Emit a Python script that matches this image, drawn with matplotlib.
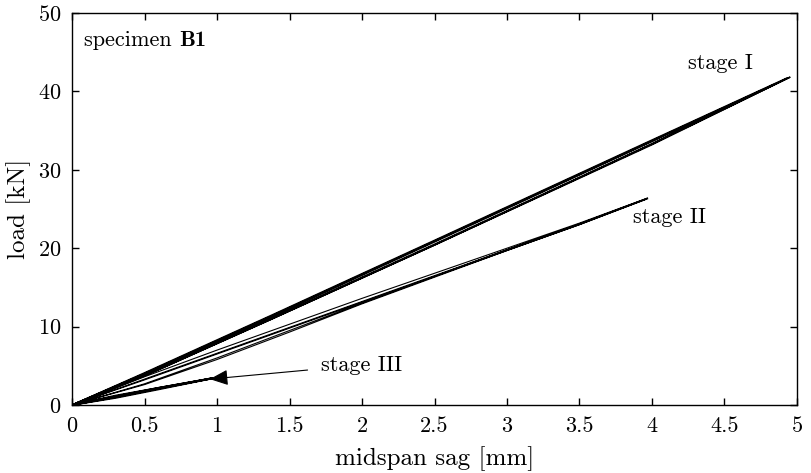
import numpy as np
import matplotlib
matplotlib.use("Agg")
import matplotlib.pyplot as plt

plt.rcParams["font.family"] = "serif"
plt.rcParams["font.serif"] = ["cmr10"]
plt.rcParams["mathtext.fontset"] = "cm"
plt.rcParams["axes.formatter.use_mathtext"] = True

# load/unload cycles: (sag [mm], load [kN])
stage1_sag = [0, 0.5, 1.37, 2.5, 4.0, 4.95, 4.0, 2.5, 1.37, 0.5, 0,
              0.5, 1.37, 2.5, 4.0, 4.93, 4.0, 2.5, 1.37, 0.5, 0,
              0.5, 1.37, 2.5, 4.0, 4.95, 4.0, 2.5, 1.37, 0.5, 0]
stage1_load = [0, 3.7, 10.9, 20.4, 33.2, 41.8, 33.7, 20.9, 11.3, 4.0, 0,
               3.8, 11.0, 20.5, 33.3, 41.7, 33.8, 21.0, 11.4, 4.1, 0,
               3.7, 10.9, 20.4, 33.3, 41.8, 33.6, 20.8, 11.2, 3.9, 0]

stage2_sag = [0, 0.5, 1.0, 1.5, 2.0, 2.5, 3.0, 3.5, 3.97,
              3.5, 3.0, 2.5, 2.0, 1.5, 1.0, 0.5, 0,
              0.5, 1.0, 1.5, 2.0, 2.5, 3.0, 3.5, 3.95,
              3.5, 3.0, 2.5, 2.0, 1.5, 1.0, 0.5, 0,
              0.5, 1.0, 1.5, 2.0, 2.5, 3.0, 3.5, 3.97]
stage2_load = [0, 3.6, 7.0, 10.3, 13.6, 16.8, 20.0, 23.2, 26.4,
               23.1, 19.8, 16.4, 13.0, 9.5, 6.0, 2.7, 0,
               3.3, 6.6, 9.9, 13.2, 16.5, 19.8, 23.1, 26.2,
               23.0, 19.7, 16.3, 12.9, 9.3, 5.8, 2.6, 0,
               3.2, 6.5, 9.8, 13.1, 16.4, 19.7, 23.0, 26.3]

stage3_sag = [0, 0.3, 0.6, 0.97, 0.6, 0.3, 0,
              0.3, 0.6, 0.96, 0.6, 0.3, 0,
              0.3, 0.6, 0.97]
stage3_load = [0, 1.1, 2.1, 3.4, 2.0, 0.9, 0,
               1.1, 2.2, 3.4, 2.1, 1.0, 0,
               1.2, 2.2, 3.4]

fig = plt.figure(figsize=(8.12, 4.73), dpi=100)
ax = fig.add_axes([0.0887, 0.1438, 0.8928, 0.8287])

ax.plot(stage1_sag, stage1_load, color="black", lw=1.1)
ax.plot(stage2_sag, stage2_load, color="black", lw=0.8)
ax.plot(stage3_sag, stage3_load, color="black", lw=1.3)

ax.text(4.25, 43.6, "stage I", fontsize=16, va="center", ha="left")
ax.text(3.87, 23.9, "stage II", fontsize=16, va="center", ha="left")
ax.annotate("stage III", xy=(0.95, 3.3), xytext=(1.72, 5.1),
            fontsize=16, va="center", ha="left",
            arrowprops=dict(arrowstyle="-|>,head_length=0.7,head_width=0.3",
                            color="black", lw=0.8, shrinkA=8, shrinkB=0))
t = ax.text(0.017, 0.931, "specimen ", fontsize=16,
            transform=ax.transAxes, va="center", ha="left")
ax.annotate("B1", xy=(1, 0.5), xycoords=t, va="center", ha="left",
            fontsize=16, fontfamily="cmb10")

ax.set_xlim(0, 5)
ax.set_ylim(0, 50)
ax.set_xticks(np.arange(0, 5.01, 0.5))
ax.set_xticklabels(["0", "0.5", "1", "1.5", "2", "2.5", "3", "3.5", "4", "4.5", "5"])
ax.set_yticks(np.arange(0, 51, 10))
ax.tick_params(direction="in", top=True, right=True, length=5, width=1,
               labelsize=16, pad=8)
for s in ax.spines.values():
    s.set_linewidth(1.0)

ax.set_xlabel("midspan sag [mm]", fontsize=18, labelpad=8)
ax.set_ylabel("load [kN]", fontsize=18, labelpad=5)

fig.savefig("out.png", dpi=100)
